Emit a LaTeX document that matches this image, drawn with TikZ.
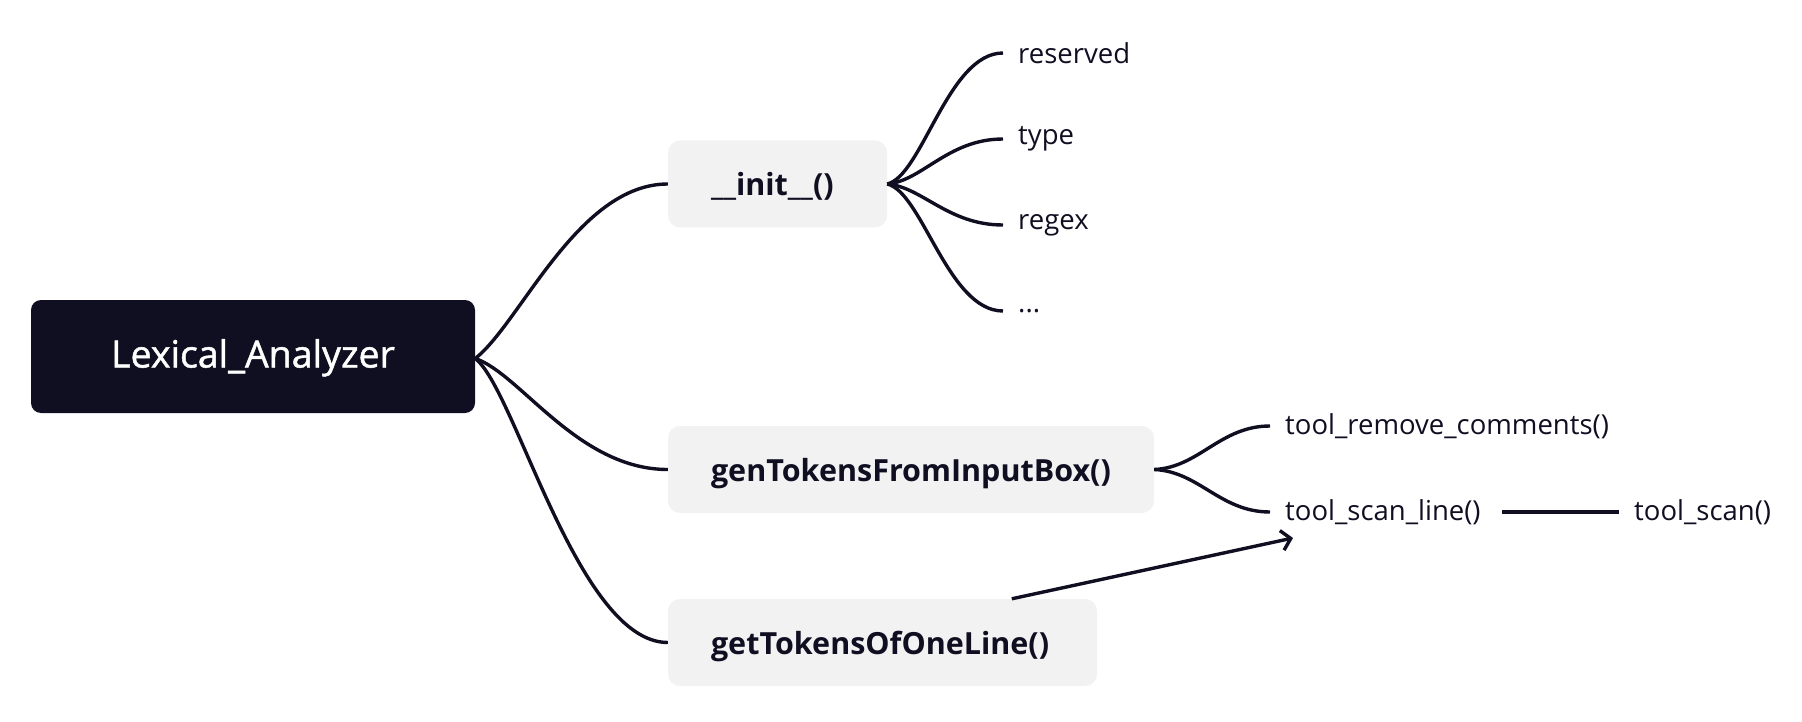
\documentclass[tikz,border=0pt]{standalone}
\usepackage{fontspec}
\setmainfont{Open Sans}
\newfontfamily\medfont{Open Sans}[FakeBold=1.3]
\usetikzlibrary{arrows.meta,calc}
\definecolor{ink}{RGB}{16,14,33}
\definecolor{boxgray}{RGB}{242,242,242}
\begin{document}
\begin{tikzpicture}[x=1pt,y=-1pt,
  rootbox/.style={draw=none,fill=ink,rounded corners=10pt,minimum width=444pt,minimum height=113pt,text depth=0pt,text height=22pt,text=white,font=\fontsize{37.5}{42}\selectfont\medfont},
  subbox/.style={draw=none,fill=boxgray,rounded corners=12pt,minimum height=87pt,inner xsep=43pt,text depth=0pt,align=left,text=ink,font=\fontsize{30.5}{34}\selectfont\bfseries},
  leaf/.style={anchor=west,inner xsep=15pt,inner ysep=4pt,text=ink,font=\fontsize{27.5}{32}\selectfont},
  link/.style={draw=ink,line width=3.4pt},
]
\useasboundingbox (0,0) rectangle (1802,722);
\node[rootbox] (root) at (253,356.5) {Lexical\_Analyzer};
\node[subbox,text width=133pt] (init) at (777.5,184) {\_\_init\_\_()};
\node[subbox,text width=400pt] (gen) at (911,469.5) {genTokensFromInputBox()};
\node[subbox,text width=343pt] (get) at (882.5,642.5) {getTokensOfOneLine()};

\node[leaf] (reserved) at (1003,53) {reserved};
\node[leaf] (type) at (1003,139) {type};
\node[leaf] (regex) at (1003,225) {regex};
\node[leaf] (dots) at (1003,311) {...};

\node[leaf] (trc) at (1270,426) {tool\_remove\_comments()};
\node[leaf] (tsl) at (1270,512) {tool\_scan\_line()};
\node[leaf] (ts) at (1619,512) {tool\_scan()};

\coordinate (rootout) at ($(root.east)+(0,2)$);
\draw[link] (rootout) .. controls ($(rootout)+(45,-35)$) and ($(init.west)+(-90,0)$) .. (init.west);
\draw[link] (rootout) .. controls ($(rootout)+(45,15)$) and ($(gen.west)+(-90,0)$) .. (gen.west);
\draw[link] (rootout) .. controls ($(rootout)+(40,30)$) and ($(get.west)+(-90,0)$) .. (get.west);

\foreach \t/\dy in {reserved/-8,type/-3,regex/3,dots/8}{
  \draw[link] (init.east) .. controls ($(init.east)+(35,\dy)$) and ($(\t.west)+(-55,0)$) .. (\t.west);
}
\foreach \t/\dy in {trc/-2,tsl/2}{
  \draw[link] (gen.east) .. controls ($(gen.east)+(45,\dy)$) and ($(\t.west)+(-50,0)$) .. (\t.west);
}
\draw[link] ($(tsl.east)+(6,0)$) -- (ts.west);
\coordinate (arrstart) at ($(get.north west)+(344,0)$);
\coordinate (arrend) at (1293,538);
\draw[link,-{Straight Barb[length=9pt,width=20pt]}] (arrstart) -- (arrend);
\end{tikzpicture}
\end{document}
